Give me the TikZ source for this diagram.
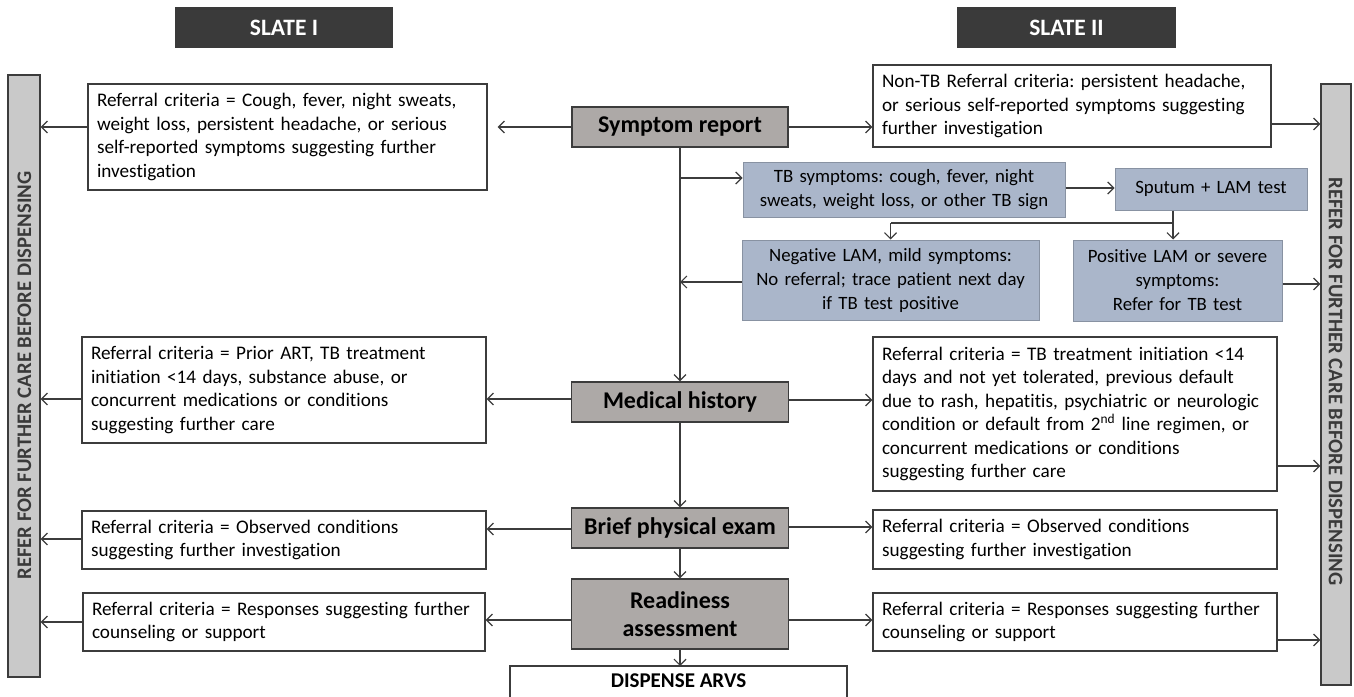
\documentclass[tikz,border=0pt]{standalone}
\usepackage{fontspec}
\setmainfont{Carlito}[Ligatures={NoCommon}]
\usetikzlibrary{arrows.meta,calc}
\definecolor{hdr}{HTML}{3A3A3A}
\definecolor{linec}{HTML}{3C3C3C}
\definecolor{mainf}{HTML}{ADA9A7}
\definecolor{bluef}{HTML}{AAB6CA}
\definecolor{barf}{HTML}{C9C9C9}
\definecolor{bart}{HTML}{3A3A3A}
\frenchspacing
\begin{document}
\begin{tikzpicture}[x=1pt,y=-1pt,
  body/.style={font=\fontsize{19.2}{23.4}\selectfont},
  bbody/.style={font=\fontsize{18.8}{24}\selectfont},
  wbox/.style={draw=linec, fill=white, line width=1.2pt, inner xsep=9pt, inner ysep=0pt, align=left, body},
  bbox/.style={draw=bluef!80!black, fill=bluef, line width=1pt, inner xsep=9pt, inner ysep=0pt, align=center, bbody},
  mbox/.style={draw=linec, fill=mainf, line width=1.2pt, inner sep=0pt, align=center, minimum width=217pt, font=\bfseries\fontsize{24}{28.5}\selectfont},
  hbox/.style={fill=hdr, text=white, inner sep=0pt, minimum width=218pt, minimum height=41pt, font=\bfseries\fontsize{23.5}{26}\selectfont},
  barbox/.style={draw=linec, fill=barf, line width=1.2pt, inner sep=0pt},
  bartext/.style={text=bart, font=\bfseries\fontsize{20.7}{24}\selectfont},
  arr/.style={draw=linec, line width=1.2pt, -{Straight Barb[length=6pt,width=12pt,line width=1.2pt]}},
  ln/.style={draw=linec, line width=1.2pt}]
\useasboundingbox (0,0) rectangle (1354,696);

% headers
\node[hbox] (s1) at (284,27.5) {SLATE I};
\node[hbox, minimum width=219pt] (s2) at (1066.5,27.5) {SLATE II};

% side bars
\node[barbox, minimum width=32pt, minimum height=602pt] (lbar) at (24,376) {};
\node[bartext, rotate=90] (lbt) at (24.5,375.5) {REFER FOR FURTHER CARE BEFORE DISPENSING};
\node[barbox, minimum width=30pt, minimum height=601pt] (rbar) at (1336,384.5) {};
\node[bartext, rotate=-90] (rbt) at (1335.5,381.5) {REFER FOR FURTHER CARE BEFORE DISPENSING};

% main column
\node[mbox, minimum width=216pt, minimum height=40pt] (SR) at (680,127) {Symptom report};
\node[mbox, minimum height=40pt] (MH) at (680,402) {Medical history};
\node[mbox, minimum height=40pt] (BP) at (680,528) {Brief physical exam};
\node[mbox, minimum height=70pt] (RA) at (680,614) {Readiness\\assessment};
\draw[draw=linec, fill=white, line width=1.2pt] (510,666) rectangle (847,720);
\node[font=\bfseries\fontsize{21}{24}\selectfont, inner sep=0pt] (DA) at (678.5,681) {DISPENSE ARVS};
\coordinate (DAtop) at (680,666);

% left boxes
\node[wbox, text width=381pt, minimum height=106pt] (L1) at (287.5,137) {Referral criteria = Cough, fever, night sweats,\\weight loss, persistent headache, or serious\\self-reported symptoms suggesting further\\investigation};
\node[wbox, text width=386pt, minimum height=106pt] (L2) at (284,390) {Referral criteria = Prior ART, TB treatment\\initiation <14 days, substance abuse, or\\concurrent medications or conditions\\suggesting further care};
\node[wbox, text width=386pt, minimum height=58pt] (L3) at (284,540) {Referral criteria = Observed conditions\\suggesting further investigation};
\node[wbox, text width=384pt, minimum height=58pt] (L4) at (284,622) {Referral criteria = Responses suggesting further\\counseling or support};

% right boxes
\node[wbox, text width=380pt, minimum height=82pt] (R1) at (1072,106) {Non-TB Referral criteria: persistent headache,\\or serious self-reported symptoms suggesting\\further investigation};
\node[wbox, text width=386pt, minimum height=154pt] (R2) at (1075,414) {Referral criteria = TB treatment initiation <14\\days and not yet tolerated, previous default\\due to rash, hepatitis, psychiatric or neurologic\\condition or default from 2\textsuperscript{nd} line regimen, or\\concurrent medications or conditions\\suggesting further care};
\node[wbox, text width=386pt, minimum height=59pt] (R3) at (1075,539.5) {Referral criteria = Observed conditions\\suggesting further investigation};
\node[wbox, text width=386pt, minimum height=58pt] (R4) at (1075,622) {Referral criteria = Responses suggesting further\\counseling or support};

% TB boxes
\node[bbox, text width=304pt, minimum height=55pt] (TBS) at (904,189.5) {TB symptoms: cough, fever, night\\sweats, weight loss, or other TB sign};
\node[bbox, text width=174pt, minimum height=42pt] (SP) at (1211,189) {Sputum + LAM test};
\node[bbox, text width=279pt, minimum height=80pt] (NEG) at (890.5,280) {Negative LAM, mild symptoms:\\No referral; trace patient next day\\if TB test positive};
\node[bbox, text width=191pt, minimum height=81pt] (POS) at (1177.5,280.5) {Positive LAM or severe\\symptoms:\\Refer for TB test};

% connectors: symptom report
\draw[arr] (SR.west) -- ([xshift=10pt]SR.west -| L1.east);
\draw[arr] ([yshift=10pt]L1.west) -- ([yshift=10pt]L1.west -| lbar.east);
\draw[arr] (SR.east) -- (SR.east -| R1.west);
\draw[arr] ([yshift=-18pt]R1.east) -- ([yshift=-18pt]R1.east -| rbar.west);
\draw[arr] (SR.south) -- (SR.south |- MH.north);
\draw[arr] ([yshift=11.5pt]TBS.west -| SR.south) -- ([yshift=11.5pt]TBS.west);
\draw[arr] ([yshift=1.5pt]TBS.east) -- ([yshift=1.5pt]TBS.east -| SP.west);
\coordinate (jn) at (1173,223);
\draw[ln] (SP.south -| jn) -- (jn) -- (jn -| NEG.north);
\draw[arr] (jn -| NEG.north) -- (NEG.north);
\draw[arr] (jn) -- (jn |- POS.north);
\draw[arr] ([yshift=-2pt]NEG.west) -- ([yshift=-2pt]NEG.west -| SR.south);
\draw[arr] ([yshift=-3.5pt]POS.east) -- ([yshift=-3.5pt]POS.east -| rbar.west);

% medical history
\draw[arr] ([yshift=3pt]MH.west) -- ([yshift=3pt]MH.west -| L2.east);
\draw[arr] ([yshift=-9pt]L2.west) -- ([yshift=-9pt]L2.west -| lbar.east);
\draw[arr] ([yshift=2pt]MH.east) -- ([yshift=2pt]MH.east -| R2.west);
\draw[arr] ([yshift=-52pt]R2.east) -- ([yshift=-52pt]R2.east -| rbar.west);
\draw[arr] (MH.south) -- (BP.north);

% brief physical exam
\draw[arr] ([yshift=-1pt]BP.west) -- ([yshift=-1pt]BP.west -| L3.east);
\draw[arr] ([yshift=1pt]L3.west) -- ([yshift=1pt]L3.west -| lbar.east);
\draw[arr] ([yshift=1pt]BP.east) -- ([yshift=1pt]BP.east -| R3.west);
\draw[arr] (BP.south) -- (RA.north);

% readiness
\draw[arr] ([yshift=-6pt]RA.west) -- ([yshift=-6pt]RA.west -| L4.east);
\draw[arr] (L4.west) -- (L4.west -| lbar.east);
\draw[arr] ([yshift=-6pt]RA.east) -- ([yshift=-6pt]RA.east -| R4.west);
\draw[arr] ([yshift=-18pt]R4.east) -- ([yshift=-18pt]R4.east -| rbar.west);
\draw[arr] (RA.south) -- (RA.south |- DAtop);
\end{tikzpicture}
\end{document}
